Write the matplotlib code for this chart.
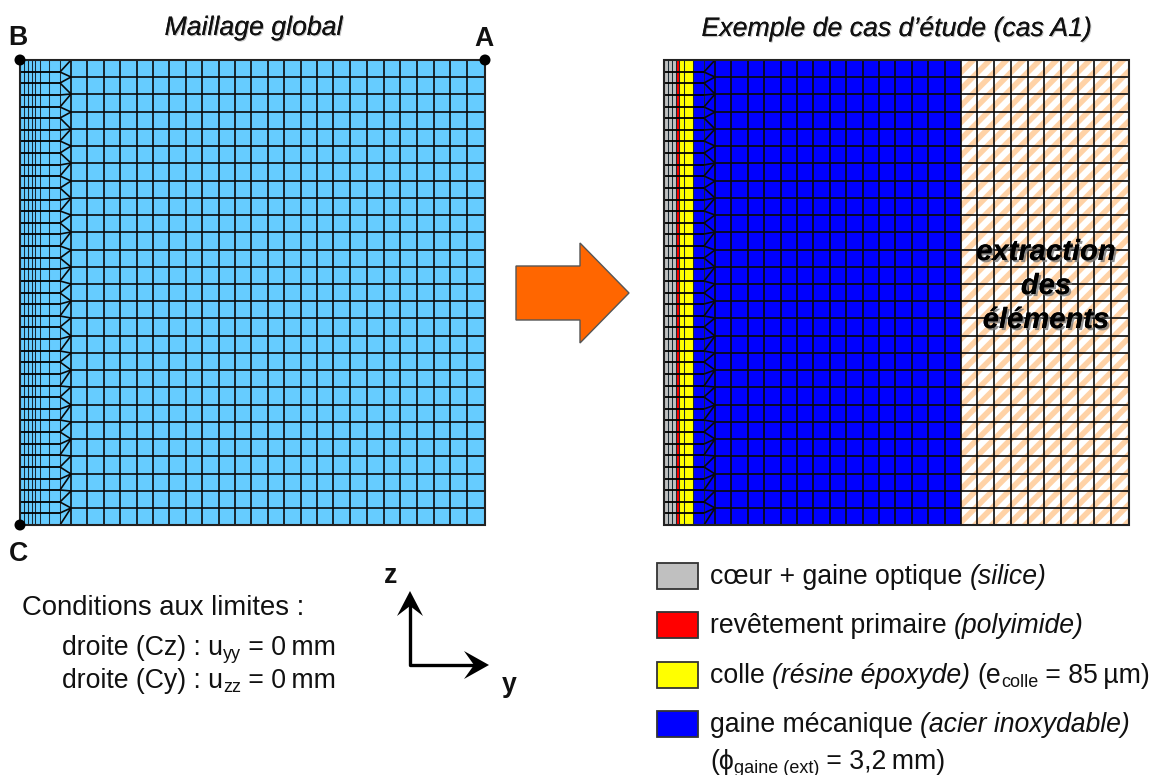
"""Maillage global / cas d'etude A1 -- mesh diagram, drawn in pixel coordinates of the 1154x775 picture."""
import matplotlib
matplotlib.use("Agg")
import matplotlib.pyplot as plt
import matplotlib.patheffects as pe
from matplotlib.collections import LineCollection
from matplotlib.patches import Circle, Polygon, Rectangle

plt.rcParams["font.family"] = ["Liberation Sans", "DejaVu Sans"]
plt.rcParams["hatch.linewidth"] = 4.0

# mesh columns, measured from the left edge of a panel (px)
FINE_COLS = [0, 4, 8, 11.5, 15, 20, 29, 40, 51]
COARSE_COLS = [51, 67, 84, 100, 117, 133, 149, 166, 182, 199, 215, 231, 248, 264,
               281, 297, 313, 330, 347, 364, 380, 397, 414, 430, 447, 465]
# mesh rows, measured from the top of a panel (px)
FINE_ROWS = [0, 12, 23, 35, 47, 58, 70, 81, 93, 105, 116, 128, 140, 151, 163, 174, 186, 198, 209, 221,
             233, 244, 256, 267, 279, 291, 302, 314, 326, 337, 349, 360, 372, 384, 395, 407, 419, 430, 442, 453, 465]
COARSE_ROWS = [0, 17, 34, 52, 69, 86, 103, 121, 138, 155, 172, 190, 207, 224, 241, 258,
               276, 293, 310, 327, 345, 362, 379, 396, 414, 431, 448, 465]

# material zones of the study case
ZONE_EDGES = [0, 11.5, 15, 29, 297, 465]
ZONE_COLORS = ["#C0C0C0", "#FF0000", "#FFFF00", "#0000FF", "white"]

FS = 19.2
SUB = 13
LEGEND_COLORS = ["#C0C0C0", "#FF0000", "#FFFF00", "#0000FF"]
LEGEND_ROWS = [
    [("cœur + gaine optique ", "normal", FS), ("(silice)", "italic", FS)],
    [("revêtement primaire ", "normal", FS), ("(polyimide)", "italic", FS)],
    [("colle ", "normal", FS), ("(résine époxyde) ", "italic", FS), ("(e", "normal", FS),
     ("colle", "sub", SUB), (" = 85\u2009µm)", "normal", FS)],
    [("gaine mécanique ", "normal", FS), ("(acier inoxydable)", "italic", FS)],
]
LEGEND_TOPS = [563, 612, 662, 711]
LEGEND_BASE = [584, 633, 683, 732]

ARROW_X = [516, 580, 580, 629, 580, 580, 516]
ARROW_Y = [266, 266, 243, 293, 343, 320, 320]

PANEL_TOP = 60
LEFT_X = 20
RIGHT_X = 664

fig = plt.figure(figsize=(11.54, 7.75), dpi=100)
ax = fig.add_axes([0, 0, 1, 1])
ax.set_xlim(0, 1154)
ax.set_ylim(775, 0)
ax.axis("off")


def rich(x, y, parts):
    # runs of text on one baseline, each run starts where the last one ended
    r = fig.canvas.get_renderer()
    for s, kind, size in parts:
        dy = 4 if kind == "sub" else 0
        t = ax.text(x, y + dy, s, fontsize=size, va="baseline", ha="left", color="#111111",
                    style="italic" if kind == "italic" else "normal")
        x = ax.transData.inverted().transform((t.get_window_extent(r).x1, 0))[0]


def draw_mesh(x0, y0):
    fine_v, thin, thick = [], [], []
    bottom, right = y0 + FINE_ROWS[-1], x0 + COARSE_COLS[-1]
    for c in FINE_COLS[:-1]:
        fine_v.append([(x0 + c, y0), (x0 + c, bottom)])
    for c in COARSE_COLS:
        thin.append([(x0 + c, y0), (x0 + c, bottom)])
    for r in FINE_ROWS:
        thick.append([(x0, y0 + r), (x0 + FINE_COLS[-2], y0 + r)])
    for r in COARSE_ROWS:
        thin.append([(x0 + FINE_COLS[-1], y0 + r), (right, y0 + r)])
    # transition band: fine nodes on the left, coarse nodes on the right, joined as a triangle strip
    i, j = 0, 0
    xl, xr = x0 + FINE_COLS[-2], x0 + FINE_COLS[-1]
    while i < len(FINE_ROWS) - 1 or j < len(COARSE_ROWS) - 1:
        nl = FINE_ROWS[i + 1] if i < len(FINE_ROWS) - 1 else 1e9
        nr = COARSE_ROWS[j + 1] if j < len(COARSE_ROWS) - 1 else 1e9
        if nl <= nr:
            i += 1
        else:
            j += 1
        thin.append([(xl, y0 + FINE_ROWS[i]), (xr, y0 + COARSE_ROWS[j])])
    ax.add_collection(LineCollection(fine_v, colors="#1a2a33", linewidths=0.75, zorder=3))
    ax.add_collection(LineCollection(thin, colors="#0a0a0a", linewidths=1.2, zorder=3))
    ax.add_collection(LineCollection(thick, colors="black", linewidths=1.3, zorder=3))
    ax.add_patch(Rectangle((x0, y0), right - x0, bottom - y0, fc="none", ec="#222222", lw=1.5, zorder=4))


# left panel
ax.add_patch(Rectangle((LEFT_X, PANEL_TOP), 465, 465, fc="#66CCFF", ec="none", zorder=1))
draw_mesh(LEFT_X, PANEL_TOP)
for cx, cy in [(LEFT_X, PANEL_TOP), (LEFT_X + 465, PANEL_TOP), (LEFT_X, PANEL_TOP + 465)]:
    ax.add_patch(Circle((cx, cy), 5.5, fc="black", ec="none", zorder=5))

# right panel
for k, col in enumerate(ZONE_COLORS):
    ax.add_patch(Rectangle((RIGHT_X + ZONE_EDGES[k], PANEL_TOP), ZONE_EDGES[k + 1] - ZONE_EDGES[k], 465,
                           fc=col, ec="none", zorder=1))
ax.add_patch(Rectangle((RIGHT_X + ZONE_EDGES[4], PANEL_TOP), ZONE_EDGES[5] - ZONE_EDGES[4], 465,
                       fc="none", ec="#FFD2A6", hatch="//", lw=0, zorder=2))
draw_mesh(RIGHT_X, PANEL_TOP)

shadow = [pe.withSimplePatchShadow(offset=(1.5, -1.5), shadow_rgbFace="#777777", alpha=0.8), pe.Normal()]
soft = [pe.withSimplePatchShadow(offset=(0.8, -0.8), shadow_rgbFace="#aaaaaa", alpha=0.7), pe.Normal()]
ax.text(253, 28, "Maillage global", fontsize=FS, style="italic", ha="center", va="center",
        path_effects=soft, color="#111111")
ax.text(896, 29, "Exemple de cas d’étude (cas A1)", fontsize=FS, style="italic", ha="center", va="center",
        path_effects=soft, color="#111111")
for s, yy in zip(["extraction", "des", "éléments"], [252, 286, 320]):
    ax.text(1046, yy, s, fontsize=21, style="italic", weight="bold", ha="center", va="center",
            path_effects=shadow, zorder=6, color="black")

for s, xx, yy in [("B", 18, 38), ("A", 484, 39), ("C", 19, 554), ("z", 391, 576), ("y", 509, 685)]:
    ax.text(xx, yy, s, fontsize=FS, weight="bold", ha="center", va="center", color="#111111")

# big orange arrow
ax.add_patch(Polygon(list(zip(ARROW_X, ARROW_Y)), closed=True, fc="#FF6600", ec="#555555", lw=1.0, zorder=2))

# y / z axes: a corner line and two notched heads
ax.plot([410, 410, 478], [600, 665, 665], color="black", lw=2.4, solid_joinstyle="round", solid_capstyle="butt")
ax.add_patch(Polygon([(410, 591), (397, 616), (410, 606), (423, 616)], closed=True, fc="black", ec="none"))
ax.add_patch(Polygon([(489, 665), (464, 651), (474, 665), (464, 679)], closed=True, fc="black", ec="none"))

# boundary conditions
rich(22, 615, [("Conditions aux limites :", "normal", 19.8)])
rich(62, 655, [("droite (Cz) : u", "normal", FS), ("yy", "sub", SUB), (" = 0\u2009mm", "normal", FS)])
rich(62, 688, [("droite (Cy) : u", "normal", FS), ("zz", "sub", SUB), (" = 0\u2009mm", "normal", FS)])

# legend
for col, top, base, row in zip(LEGEND_COLORS, LEGEND_TOPS, LEGEND_BASE, LEGEND_ROWS):
    ax.add_patch(Rectangle((657, top), 41, 26, fc=col, ec="#333333", lw=1.3))
    rich(710, base, row)
rich(710, 769, [("(ϕ", "normal", FS), ("gaine (ext)", "sub", SUB), (" = 3,2\u2009mm)", "normal", FS)])

fig.savefig("out.png", dpi=100)
